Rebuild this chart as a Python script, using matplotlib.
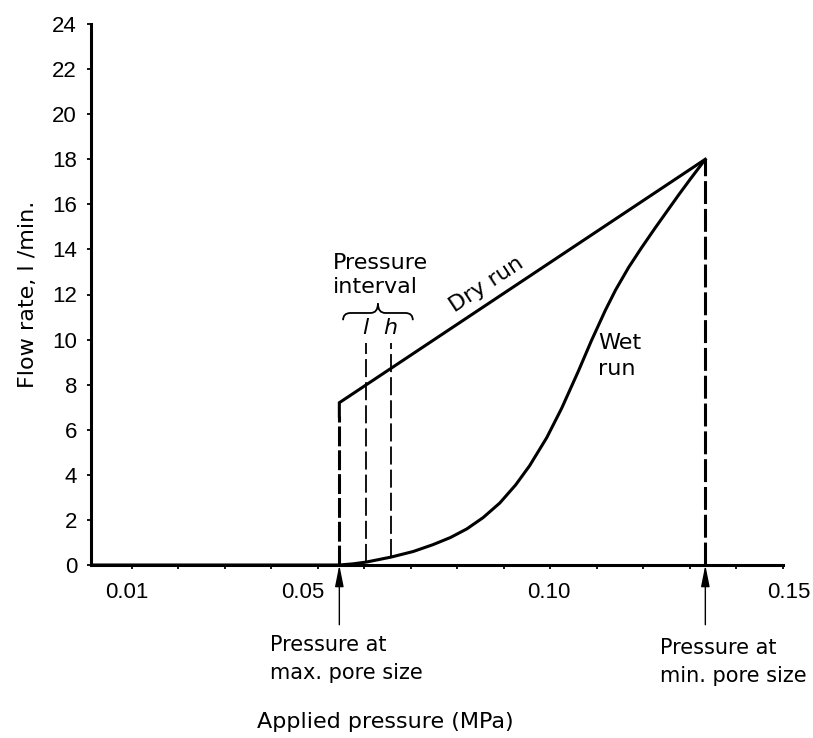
import matplotlib
matplotlib.use("Agg")
import matplotlib.pyplot as plt
import matplotlib.transforms as mtransforms
from matplotlib import font_manager
from matplotlib.path import Path
from matplotlib.patches import PathPatch

names = {f.name for f in font_manager.fontManager.ttflist}
TICKFONT = "Liberation Sans" if "Liberation Sans" in names else "DejaVu Sans"
plt.rcParams["font.family"] = ["DejaVu Sans"]

# ---------------- data ----------------
p_max_pore = 0.0546          # pressure at max. pore size
p_min_pore = 0.1333          # pressure at min. pore size
dry_x = [p_max_pore, p_max_pore, p_min_pore]
dry_y = [6.6, 7.2, 18.0]
dry_bubble_y = 6.6           # top of dashed vertical at max. pore size
wet_x = [0.0012, 0.0300, 0.0546, 0.0575, 0.0604, 0.0657, 0.0705, 0.0747, 0.0785,
         0.0820, 0.0855, 0.0891, 0.0925, 0.0955, 0.0992, 0.1024, 0.1060, 0.1088,
         0.1118, 0.1140, 0.1168, 0.1195, 0.1225, 0.1275, 0.1300, 0.1333]
wet_y = [0.0, 0.0, 0.0, 0.05, 0.13, 0.35, 0.6, 0.9, 1.22,
         1.6, 2.1, 2.75, 3.55, 4.4, 5.65, 6.95, 8.6, 9.95,
         11.3, 12.2, 13.2, 14.05, 14.95, 16.4, 17.1, 18.0]
interval_x = [0.0604, 0.0657]       # l, h
interval_bottom = [0.13, 0.35]
interval_top = 9.85
interval_labels = ["l", "h"]
x_ticks = [0.01, 0.02, 0.03, 0.04, 0.05, 0.06, 0.07, 0.08, 0.09, 0.10,
           0.11, 0.12, 0.13, 0.14, 0.15]
x_tick_labels = ["0.01", "", "", "", "0.05", "", "", "", "", "0.10",
                 "", "", "", "", "0.15"]
y_ticks = [0, 2, 4, 6, 8, 10, 12, 14, 16, 18, 20, 22, 24]
y_tick_labels = [str(v) for v in y_ticks]

# ---------------- figure ----------------
W, H = 813, 738
fig = plt.figure(figsize=(W / 100, H / 100), dpi=100)
ax = fig.add_axes([91 / W, (H - 565) / H, (783 - 91) / W, (565 - 24) / H])
ax.set_xlim(0.0012, 0.15)
ax.set_ylim(0, 24)

for s in ("top", "right"):
    ax.spines[s].set_visible(False)
for s in ("left", "bottom"):
    ax.spines[s].set_linewidth(2.2)

FS = 16
AFS = 15
TFS = 16
ax.set_xticks(x_ticks, labels=x_tick_labels)
ax.set_yticks(y_ticks, labels=y_tick_labels)
ax.tick_params(axis="y", direction="out", length=3, width=1.3, pad=7, labelsize=TFS)
ax.tick_params(axis="x", direction="out", length=3, width=1.3, pad=9, labelsize=TFS)
for lab in ax.get_xticklabels() + ax.get_yticklabels():
    lab.set_fontfamily(TICKFONT)

# small horizontal offsets of x tick labels (as in the reference)
shifts = {"0.01": -5, "0.05": -15, "0.10": -2, "0.15": 6}
for lab in ax.get_xticklabels():
    t = lab.get_text()
    if t in shifts:
        lab.set_transform(lab.get_transform() +
                          mtransforms.ScaledTranslation(shifts[t] / 100, 0,
                                                        fig.dpi_scale_trans))

ax.set_ylabel("Flow rate, l /min.", fontsize=FS)
ax.yaxis.set_label_coords(-0.077, 0.5)

LW = 2.2
# dry run
ax.plot(dry_x, dry_y, color="black", lw=LW, solid_joinstyle="miter", clip_on=False)
# wet run
ax.plot(wet_x, wet_y, color="black", lw=LW, solid_joinstyle="round",
        solid_capstyle="butt", clip_on=False)

# dashed verticals
ax.plot([p_max_pore, p_max_pore], [0, dry_bubble_y], color="black", lw=LW,
        linestyle=(0, (6.5, 1.3)))
ax.plot([p_min_pore, p_min_pore], [0, dry_y[-1]], color="black", lw=LW,
        linestyle=(0, (7.5, 1.6)))

# pressure interval lines
for xv, yb, lbl in zip(interval_x, interval_bottom, interval_labels):
    ax.plot([xv, xv], [yb, interval_top], color="black", lw=1.3,
            linestyle=(0, (10, 2.8)))
    ax.text(xv - 0.0002, 10.5, lbl, fontsize=FS, style="italic",
            ha="center", va="center")

# brace over the interval
x0, x1 = 0.0554, 0.0704
xm = (x0 + x1) / 2
ye, ymid, ypk = 10.86, 11.18, 11.6
dx = 0.0016
verts = [(x0, ye), (x0, ymid), (x0 + dx, ymid),
         (xm - dx, ymid), (xm, ymid), (xm, ypk),
         (xm, ymid), (xm + dx, ymid),
         (x1 - dx, ymid), (x1, ymid), (x1, ye)]
codes = [Path.MOVETO, Path.CURVE3, Path.CURVE3,
         Path.LINETO, Path.CURVE3, Path.CURVE3,
         Path.CURVE3, Path.CURVE3,
         Path.LINETO, Path.CURVE3, Path.CURVE3]
ax.add_patch(PathPatch(Path(verts, codes), fill=False, lw=1.3, color="black"))

ax.text(0.0532, 12.87, "Pressure\ninterval", fontsize=FS, ha="left", va="center",
        linespacing=1.26)
ax.text(0.0863, 12.45, "Dry run", fontsize=FS, ha="center", va="center",
        rotation=33.5, rotation_mode="anchor")
ax.text(0.1102, 9.27, "Wet\nrun", fontsize=FS, ha="left", va="center",
        linespacing=1.36)

# arrows below the axis
for xv in (p_max_pore, p_min_pore):
    ax.annotate("", xy=(xv, 0), xycoords="data", xytext=(0, -43),
                textcoords="offset points", annotation_clip=False,
                arrowprops=dict(arrowstyle="-|>,head_length=0.65,head_width=0.13",
                                lw=1.0, color="black", shrinkA=0, shrinkB=0,
                                mutation_scale=20))

fig.text(270 / W, 1 - 659 / H, "Pressure at\nmax. pore size", fontsize=AFS,
         ha="left", va="center", linespacing=1.45)
fig.text(660 / W, 1 - 662 / H, "Pressure at\nmin. pore size", fontsize=AFS,
         ha="left", va="center", linespacing=1.45)
fig.text(385 / W, 1 - 722 / H, "Applied pressure (MPa)", fontsize=FS,
         ha="center", va="center")

fig.savefig("out.png", dpi=100)
